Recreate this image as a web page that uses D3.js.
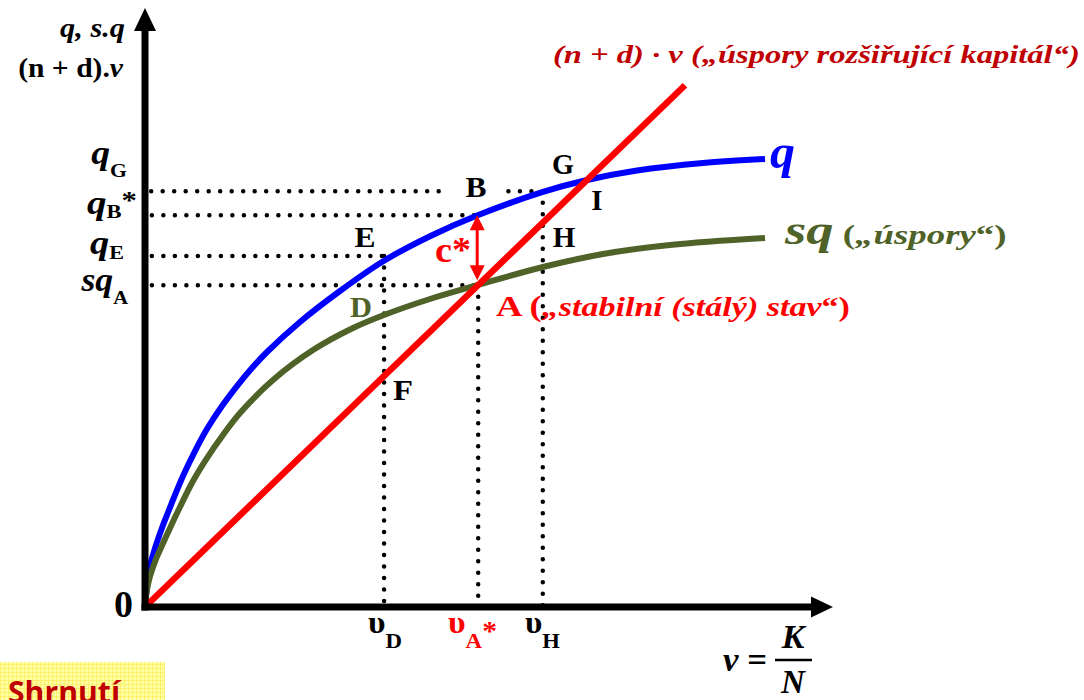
<!DOCTYPE html>
<html>
<head>
<meta charset="utf-8">
<script src="https://cdn.jsdelivr.net/npm/d3@7"></script>
<style>
  body { margin: 0; background: #fff; }
  svg { display: block; }
</style>
</head>
<body>
<div id="chart"></div>
<script>
const width = 1084, height = 700;

// curves: v = K/N on x, output per worker on y (0..100 units)
const qV  = [0, 0.15, 0.29, 0.58, 0.87, 1.16, 1.75, 2.47, 3.20, 4.37, 5.53, 7.28, 9.02, 11.21, 13.39, 15.57, 17.76, 22.56, 28.38, 34.79, 41.48, 48.33, 57.93, 64.34, 71.62, 81.22, 90.25];
const qY  = [0, 2.00, 3.67, 5.84, 7.51, 8.68, 10.85, 13.19, 15.36, 18.70, 21.87, 26.04, 29.72, 33.56, 36.89, 39.90, 42.57, 47.58, 52.75, 57.80, 61.90, 65.35, 69.30, 71.29, 72.87, 74.12, 74.79];
const sqV = [0, 0.15, 0.29, 0.58, 1.02, 1.60, 2.18, 3.64, 5.09, 6.99, 9.02, 11.35, 13.83, 18.63, 24.45, 30.28, 34.79, 41.48, 48.47, 57.93, 66.67, 76.42, 90.25];
const sqY = [0, 1.67, 2.84, 4.51, 6.18, 8.01, 9.52, 13.19, 16.69, 21.04, 24.87, 28.71, 32.39, 37.90, 42.90, 46.58, 48.75, 51.42, 53.76, 56.76, 58.93, 60.43, 61.60];
const ndV = [0, 78.6];
const ndY = [0, 87.1];

// marked capital levels on the x axis and the levels read at them
const vD = 34.8, vA = 48.5, vH = 57.9;
const qG = 69.4, qB = 65.4, qE = 58.6, sqA = 53.7;

// dotted guides: [from v, to v, level] and [v, top level]
const hGuides = [[0.9, 43.7, qG], [52.9, vH, qG], [1, vA, qB], [1, vD, qE], [1, vA, sqA]];
const vGuides = [[vD, qE], [vA, sqA], [vH, qG]];

const serif = "'Liberation Serif', 'Times New Roman', Times, serif";
const blue = "#0000ff", red = "#ff0000", olive = "#4f6228", darkred = "#c00000";

const svg = d3.select("#chart")
  .append("svg")
  .attr("width", width)
  .attr("height", height)
  .attr("viewBox", [0, 0, width, height]);

const x = d3.scaleLinear().domain([0, 100]).range([145, 832]);
const y = d3.scaleLinear().domain([0, 100]).range([607, 8]);

// yellow "Shrnutí" tab pattern
const defs = svg.append("defs");
const pat = defs.append("pattern").attr("id", "yel").attr("width", 4).attr("height", 4)
  .attr("patternUnits", "userSpaceOnUse");
pat.append("rect").attr("width", 4).attr("height", 4).attr("fill", "#ffffa8");
pat.append("rect").attr("width", 4).attr("height", 1).attr("fill", "#fff06a");
pat.append("rect").attr("width", 1).attr("height", 4).attr("fill", "#fff06a");

// guides
const guides = svg.append("g")
  .attr("stroke", "#000")
  .attr("stroke-width", 4.5)
  .attr("stroke-linecap", "round")
  .attr("stroke-dasharray", "0 11.5");

guides.selectAll("line.h")
  .data(hGuides)
  .join("line")
  .attr("class", "h")
  .attr("x1", d => x(d[0]))
  .attr("x2", d => x(d[1]))
  .attr("y1", d => y(d[2]))
  .attr("y2", d => y(d[2]));

guides.selectAll("line.v")
  .data(vGuides)
  .join("line")
  .attr("class", "v")
  .attr("x1", d => x(d[0]))
  .attr("x2", d => x(d[0]))
  .attr("y1", d => y(d[1]))
  .attr("y2", y(0));

// curves
const line = d3.line()
  .x(d => x(d[0]))
  .y(d => y(d[1]))
  .curve(d3.curveCatmullRom.alpha(0.5));

svg.append("path")
  .attr("d", line(d3.zip(qV, qY)))
  .attr("fill", "none").attr("stroke", blue).attr("stroke-width", 6);

svg.append("path")
  .attr("d", line(d3.zip(sqV, sqY)))
  .attr("fill", "none").attr("stroke", olive).attr("stroke-width", 6);

svg.append("path")
  .attr("d", d3.line().x(d => x(d[0])).y(d => y(d[1]))(d3.zip(ndV, ndY)))
  .attr("fill", "none").attr("stroke", red).attr("stroke-width", 6.5);

// c* arrow between q and sq at v_A
const aTop = y(qB), aBot = y(sqA) - 5, ax = x(vA) - 1;
svg.append("line")
  .attr("x1", ax).attr("x2", ax)
  .attr("y1", aTop + 12).attr("y2", aBot - 12)
  .attr("stroke", red).attr("stroke-width", 3);
svg.append("path")
  .attr("d", `M${ax},${aTop} L${ax - 7.5},${aTop + 15} L${ax + 7.5},${aTop + 15} Z
              M${ax},${aBot} L${ax - 7.5},${aBot - 15} L${ax + 7.5},${aBot - 15} Z`)
  .attr("fill", red);

// axes
svg.append("line")
  .attr("x1", x(0)).attr("x2", x(0))
  .attr("y1", y(0) + 3.5).attr("y2", 26)
  .attr("stroke", "#000").attr("stroke-width", 7);
svg.append("path")
  .attr("d", `M${x(0)},8 L${x(0) - 11},31 L${x(0) + 11},31 Z`)
  .attr("fill", "#000");
svg.append("line")
  .attr("x1", x(0) - 3.5).attr("x2", 815)
  .attr("y1", y(0)).attr("y2", y(0))
  .attr("stroke", "#000").attr("stroke-width", 7);
svg.append("path")
  .attr("d", `M833,${y(0)} L811,${y(0) - 10.5} L811,${y(0) + 10.5} Z`)
  .attr("fill", "#000");

// text helper: parts = [text, size, italic, dy, fill]; optional fitted width
function label(px, py, anchor, parts, w, color, family) {
  const t = svg.append("text")
    .attr("x", px).attr("y", py)
    .attr("text-anchor", anchor)
    .attr("font-family", family || serif)
    .attr("font-weight", "bold")
    .attr("fill", color || "#000");
  parts.forEach(p => {
    t.append("tspan")
      .text(p[0])
      .attr("font-size", p[1])
      .attr("font-style", p[2] ? "italic" : "normal")
      .attr("dy", p[3] || 0)
      .attr("fill", p[4] || null);
  });
  if (w) {
    const bw = t.node().getBBox().width;
    const s = w / bw;
    t.attr("transform", `translate(${px},0) scale(${s},1) translate(${-px},0)`);
  }
  return t;
}

// axis titles
label(125, 37, "end", [["q, s.q", 27, true]], 65);
label(123, 77, "end", [["(n + d).", 27, false], ["v", 27, true]], 106);
label(553, 63, "start", [["(n + d) · v („úspory rozšiřující kapitál“)", 26, true]], 527, darkred);

// y-axis level labels
label(127, 164, "end", [["q", 33, true], ["G", 19, false, 13]], 36);
label(137, 214, "end", [["q", 33, true], ["B", 19, false, 4], ["*", 26, false, -9]], 50);
label(124, 254, "end", [["q", 33, true], ["E", 19, false, 5]], 34);
label(128, 291, "end", [["sq", 33, true], ["A", 19, false, 13]], 48);
label(133, 617, "end", [["0", 38, false]]);

// point labels
label(476, 197, "middle", [["B", 29, false]], 21);
label(563, 174, "middle", [["G", 29, false]], 22);
label(597, 210, "middle", [["I", 29, false]]);
label(564, 247, "middle", [["H", 29, false]], 23);
label(365, 247, "middle", [["E", 29, false]], 21);
label(361, 317, "middle", [["D", 29, false]], 22, olive);
label(403, 400, "middle", [["F", 29, false]], 20);
label(435, 262, "start", [["c*", 36, false]], 36, red);
label(496, 316, "start", [["A (", 29, false], ["„stabilní (stálý) stav", 27, true], ["“)", 27, false]], 354, red);

// curve names
label(770, 168, "start", [["q", 48, true]], 25, blue);
label(785, 244, "start", [["sq", 40, true], [" (", 27, false], ["„úspory", 27, true], ["“)", 27, false]], 223, olive);

// x-axis labels
label(368, 633, "start", [["υ", 31, false], ["D", 21, false, 15]], 34);
label(448, 633, "start", [["υ", 31, false], ["A", 21, false, 15], ["*", 27, false, -8]], 49, red);
label(525, 633, "start", [["υ", 31, false], ["H", 21, false, 15]], 35);

// v = K / N
label(723, 671, "start", [["v", 34, true], [" =", 34, false]], 44);
label(793, 648, "middle", [["K", 34, true]]);
label(793, 693, "middle", [["N", 33, true]]);
svg.append("line")
  .attr("x1", 775).attr("x2", 812).attr("y1", 660).attr("y2", 660)
  .attr("stroke", "#000").attr("stroke-width", 2.5);

// "Shrnutí" tab at the bottom
svg.append("rect")
  .attr("x", 0).attr("y", 662).attr("width", 165).attr("height", 40)
  .attr("fill", "url(#yel)");
label(8, 703, "start", [["Shrnutí", 30, false]], 114, darkred, "'Open Sans', 'Liberation Sans', sans-serif");
</script>
</body>
</html>
